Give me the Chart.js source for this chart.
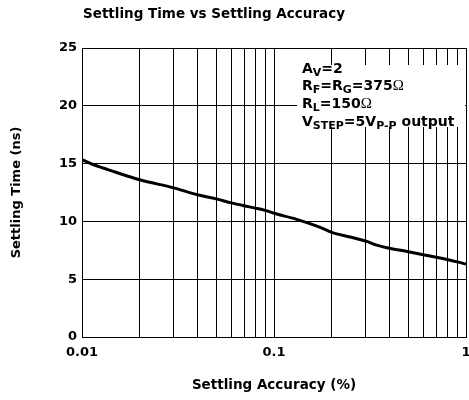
<!DOCTYPE html>
<html>
<head>
<meta charset="utf-8">
<script src="https://cdn.jsdelivr.net/npm/chart.js@4/dist/chart.umd.min.js"></script>
<style>
  html, body { margin: 0; padding: 0; background: #fff; }
  canvas { display: block; }
</style>
</head>
<body>
<canvas id="chart" width="469" height="400"></canvas>
<script>
// Settling accuracy (%) and settling time (ns)
const accuracy = [0.01, 0.0115, 0.013, 0.015, 0.02, 0.03, 0.04, 0.05, 0.06, 0.07, 0.08, 0.09, 0.1,
                  0.13, 0.17, 0.2, 0.25, 0.3, 0.35, 0.4, 0.5, 0.7, 0.9, 1.0];
const settlingTime = [15.35, 14.9, 14.6, 14.25, 13.6, 12.9, 12.3, 11.95, 11.6, 11.35, 11.15, 10.95, 10.7,
                      10.2, 9.55, 9.05, 8.65, 8.3, 7.9, 7.67, 7.38, 6.9, 6.5, 6.3];

// Log grid positions and the decade labels shown under the axis
const xGrid = [0.01, 0.02, 0.03, 0.04, 0.05, 0.06, 0.07, 0.08, 0.09,
               0.1, 0.2, 0.3, 0.4, 0.5, 0.6, 0.7, 0.8, 0.9, 1];
const xLabels = { 0.01: '0.01', 0.1: '0.1', 1: '1' };
const yTicks = [0, 5, 10, 15, 20, 25];

const titleText = 'Settling Time vs Settling Accuracy';
const xTitle = 'Settling Accuracy (%)';
const yTitle = 'Settling Time (ns)';

// Test conditions: each line is a list of [text, style] runs
const conditions = [
  [['A', 'n'], ['V', 's'], ['=2', 'n']],
  [['R', 'n'], ['F', 's'], ['=R', 'n'], ['G', 's'], ['=375', 'n'], ['\u03A9', 'o']],
  [['R', 'n'], ['L', 's'], ['=150', 'n'], ['\u03A9', 'o']],
  [['V', 'n'], ['STEP', 's'], ['=5V', 'n'], ['P-P', 's'], [' output', 'n']]
];

const FONT = '"DejaVu Sans", Verdana, sans-serif';

const titlePlugin = {
  id: 'leftTitle',
  afterDraw(chart) {
    const ctx = chart.ctx;
    ctx.save();
    ctx.fillStyle = '#000';
    ctx.font = 'bold 13.5px ' + FONT;
    ctx.textAlign = 'left';
    ctx.textBaseline = 'middle';
    ctx.fillText(titleText, chart.chartArea.left + 1, 14);
    ctx.restore();
  }
};

const conditionsPlugin = {
  id: 'conditions',
  afterDatasetsDraw(chart) {
    const { ctx, chartArea } = chart;
    const left = chartArea.left + 215;
    const top = chartArea.top + 17;
    ctx.save();
    ctx.fillStyle = '#fff';
    ctx.fillRect(left, top, chartArea.right - 1 - left, 62);
    ctx.fillStyle = '#000';
    ctx.textAlign = 'left';
    ctx.textBaseline = 'alphabetic';
    conditions.forEach((line, i) => {
      let x = left + 5;
      const base = chartArea.top + 24.5 + i * 17.8;
      line.forEach(([txt, style]) => {
        let dy = 0;
        if (style === 's') { ctx.font = 'bold 11px ' + FONT; dy = 3; }
        else if (style === 'o') { ctx.font = '15px "Liberation Serif", "DejaVu Serif", serif'; }
        else { ctx.font = 'bold 14px ' + FONT; }
        ctx.fillText(txt, x, base + dy);
        x += ctx.measureText(txt).width;
      });
    });
    ctx.restore();
  }
};

new Chart(document.getElementById('chart'), {
  type: 'line',
  data: {
    datasets: [{
      data: accuracy.map((a, i) => ({ x: a, y: settlingTime[i] })),
      borderColor: '#000',
      borderWidth: 3,
      pointRadius: 0,
      fill: false,
      cubicInterpolationMode: 'monotone'
    }]
  },
  options: {
    responsive: false,
    devicePixelRatio: 1,
    animation: false,
    layout: { padding: { top: 48, right: 3, left: 0, bottom: 0 } },
    plugins: { legend: { display: false }, tooltip: { enabled: false }, title: { display: false } },
    scales: {
      x: {
        type: 'logarithmic',
        min: 0.01,
        max: 1,
        afterBuildTicks(scale) { scale.ticks = xGrid.map(v => ({ value: v })); },
        afterFit(scale) { scale.height = 63; scale.paddingLeft = 0; scale.paddingRight = 0; },
        grid: { color: '#000', lineWidth: 1, drawTicks: false },
        border: { color: '#000', width: 1 },
        ticks: {
          autoSkip: false,
          maxRotation: 0,
          padding: 8,
          color: '#000',
          font: { family: FONT, size: 13, weight: 'bold' },
          callback: (v) => xLabels[v] || ''
        },
        title: {
          display: true,
          text: xTitle,
          color: '#000',
          font: { family: FONT, size: 13.5, weight: 'bold' },
          padding: { top: 0, bottom: 6 }
        }
      },
      y: {
        min: 0,
        max: 25,
        afterBuildTicks(scale) { scale.ticks = yTicks.map(v => ({ value: v })); },
        afterFit(scale) { scale.width = 82; },
        grid: { color: '#000', lineWidth: 1, drawTicks: false },
        border: { color: '#000', width: 1 },
        ticks: {
          padding: 5,
          color: '#000',
          font: { family: FONT, size: 13, weight: 'bold' }
        },
        title: {
          display: true,
          text: yTitle,
          color: '#000',
          font: { family: FONT, size: 13, weight: 'bold' },
          padding: { top: 9, bottom: 0 }
        }
      }
    }
  },
  plugins: [titlePlugin, conditionsPlugin]
});
</script>
</body>
</html>
